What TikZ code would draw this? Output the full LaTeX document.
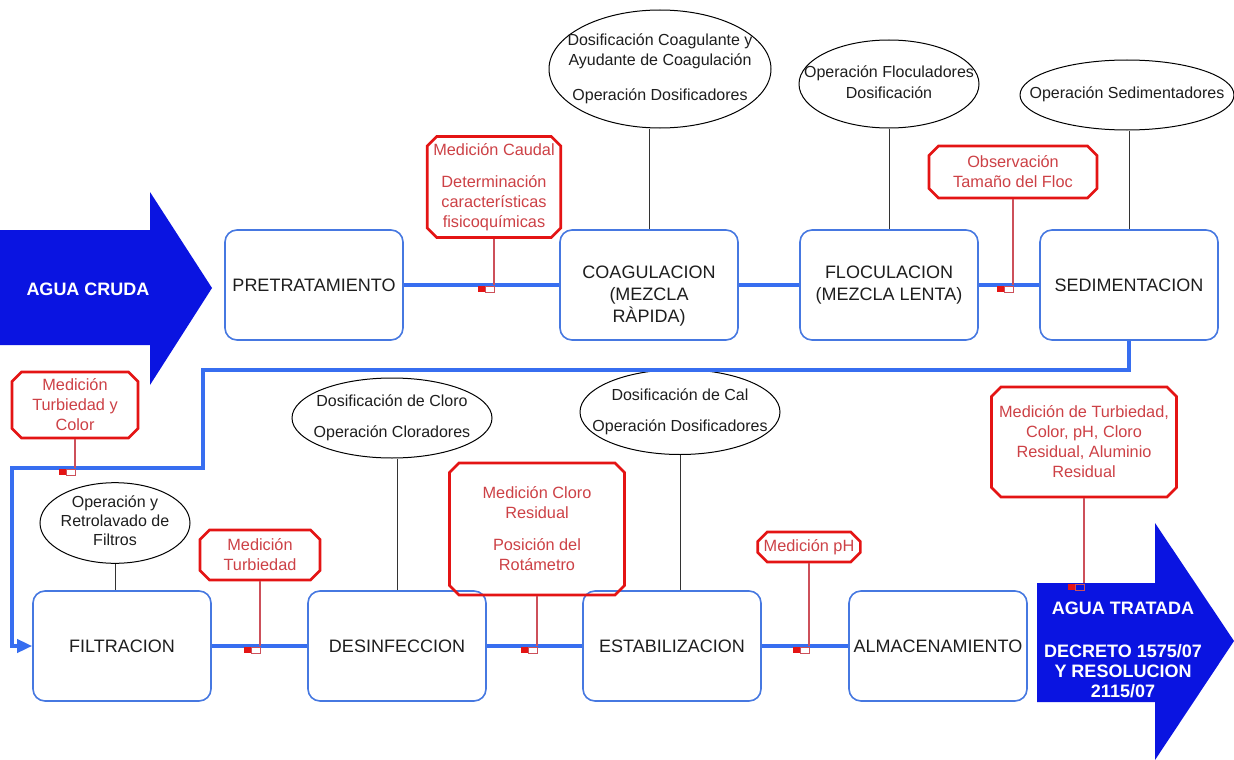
\documentclass[tikz,border=0pt]{standalone}
\usepackage{fontspec}
\setmainfont{Liberation Sans}
\usetikzlibrary{shapes.geometric,shapes.misc,arrows.meta}
\definecolor{boxblue}{RGB}{70,120,225}
\definecolor{flowblue}{RGB}{55,110,240}
\definecolor{arrblue}{RGB}{10,20,225}
\definecolor{redb}{RGB}{228,20,20}
\definecolor{redt}{RGB}{205,65,70}
\definecolor{redl}{RGB}{205,80,90}
\definecolor{txt}{RGB}{30,30,30}
\newcommand\etxt[1]{\makebox[0pt]{\begin{tabular}{@{}c@{}}#1\end{tabular}}}
\begin{document}
\begin{tikzpicture}[x=1pt,y=-1pt,
  stage/.style={draw=boxblue,line width=1.6pt,rounded corners=12pt,minimum width=178pt,minimum height=110pt,align=center,text=txt,font=\fontsize{18}{22}\selectfont,inner sep=1pt},
  task/.style={ellipse,draw=black,line width=1pt,text=txt,font=\fontsize{16}{20}\selectfont,inner sep=0pt},
  check/.style={chamfered rectangle,chamfered rectangle xsep=6pt,draw=redb,line width=2.6pt,align=center,text=redt,font=\fontsize{16.3}{20}\selectfont,inner sep=0pt},
  flow/.style={draw=flowblue,line width=3.6pt},
  tie/.style={draw=black!80,line width=1pt},
  probeline/.style={draw=redl,line width=1.1pt},
  bigtext/.style={text=white,font=\bfseries\fontsize{18}{20}\selectfont,align=center},
  probe/.pic={\fill[redb] (-16,1) rectangle (-9,7); \draw[redl,line width=0.8pt] (-9,1) rectangle (0,7);}
]
\useasboundingbox[fill=white] (0,0) rectangle (1234,760);

% big arrows
\fill[arrblue] (0,230) -- (150,230) -- (150,192) -- (212,288) -- (150,385) -- (150,345) -- (0,345) -- cycle;
\node[bigtext] (cruda) at (88,289) {AGUA CRUDA};
\fill[arrblue] (1037,583) -- (1155,583) -- (1155,523) -- (1234,641) -- (1155,760) -- (1155,702) -- (1037,702) -- cycle;
\node[bigtext] (tratada) at (1123,650) {AGUA TRATADA\\[23pt]DECRETO 1575/07\\Y RESOLUCION\\2115/07};
\coordinate (shafttop) at (1037,583);

% stages
\node[stage] (pre) at (314,285) {PRETRATAMIENTO};
\node[stage,text height=79pt] (coag) at (649,285) {COAGULACION\\(MEZCLA\\RÀPIDA)};
\node[stage] (floc) at (889,285) {FLOCULACION\\(MEZCLA LENTA)};
\node[stage] (sed) at (1129,285) {SEDIMENTACION};
\node[stage] (filt) at (122,646) {FILTRACION};
\node[stage] (desinf) at (397,646) {DESINFECCION};
\node[stage] (estab) at (672,646) {ESTABILIZACION};
\node[stage] (alm) at (938,646) {ALMACENAMIENTO};

% ellipses
\node[task,minimum width=222pt,minimum height=118pt] (e1) at (660,69) {\etxt{Dosificación Coagulante y\\Ayudante de Coagulación\\[15pt]Operación Dosificadores}};
\node[task,minimum width=180pt,minimum height=88pt] (e2) at (889,84) {\etxt{Operación Floculadores\\Dosificación}};
\node[task,minimum width=214pt,minimum height=70pt] (e3) at (1127,95) {\etxt{Operación Sedimentadores}};
\node[task,minimum width=200pt,minimum height=80pt] (e4) at (392,418) {\etxt{Dosificación de Cloro\\[11pt]Operación Cloradores}};
\node[task,minimum width=200pt,minimum height=85pt] (e5) at (680,412) {\etxt{Dosificación de Cal\\[11pt]Operación Dosificadores}};
\node[task,minimum width=150pt,minimum height=80pt,font=\fontsize{16}{19}\selectfont] (e6) at (115,523) {\etxt{Operación y\\Retrolavado de\\Filtros}};

% red check boxes
\node[check,minimum width=124pt,minimum height=101pt] (r1) at (494,187) {Medición Caudal\\[12pt]Determinación\\características\\fisicoquímicas};
\node[check,minimum width=168pt,minimum height=52pt] (r2) at (1013,172) {Observación\\Tamaño del Floc};
\node[check,minimum width=126pt,minimum height=66pt] (r3) at (75,405) {Medición\\Turbiedad y\\Color};
\node[check,minimum width=120pt,minimum height=50pt] (r4) at (260,555) {Medición\\Turbiedad};
\node[check,minimum width=175pt,minimum height=132pt] (r5) at (537,529) {Medición Cloro\\Residual\\[12pt]Posición del\\Rotámetro};
\node[check,minimum width=102pt,minimum height=30pt] (r6) at (809,547) {Medición pH};
\node[check,minimum width=185pt,minimum height=110pt] (r7) at (1084,442) {Medición de Turbiedad,\\Color, pH, Cloro\\Residual, Aluminio\\Residual};

% flow lines
\coordinate (t1) at (203,370);
\coordinate (t2) at (12,468);
\draw[flow] (pre.east) -- (coag.west);
\draw[flow] (coag.east) -- (floc.west);
\draw[flow] (floc.east) -- (sed.west);
\draw[flow] (filt.east) -- (desinf.west);
\draw[flow] (desinf.east) -- (estab.west);
\draw[flow] (estab.east) -- (alm.west);
\draw[flow,-{Triangle[length=15pt,width=13pt]}] (sed.south) |- (t1) |- (t2) |- (filt.west);

% ellipse ties
\draw[tie] (coag.north) -- (coag.north |- e1.south);
\draw[tie] (e2.south) -- (floc.north);
\draw[tie] (sed.north) -- (sed.north |- e3.south);
\draw[tie] (desinf.north) -- (desinf.north |- e4.south);
\draw[tie] (e5.south) -- (e5.south |- estab.north);
\draw[tie] (e6.south) -- (e6.south |- filt.north);

% probes
\coordinate (m1) at (r1.south |- pre.east);
\coordinate (m2) at (r2.south |- floc.east);
\coordinate (m3) at (r3.south |- t2);
\coordinate (m4) at (r4.south |- filt.east);
\coordinate (m5) at (r5.south |- desinf.east);
\coordinate (m6) at (r6.south |- estab.east);
\coordinate (m7) at (r7.south |- shafttop);
\foreach \r/\m in {r1/m1,r2/m2,r3/m3,r4/m4,r5/m5,r6/m6,r7/m7}{
  \draw[probeline] (\r.south) -- (\m);
  \pic at (\m) {probe};
}
\end{tikzpicture}
\end{document}
